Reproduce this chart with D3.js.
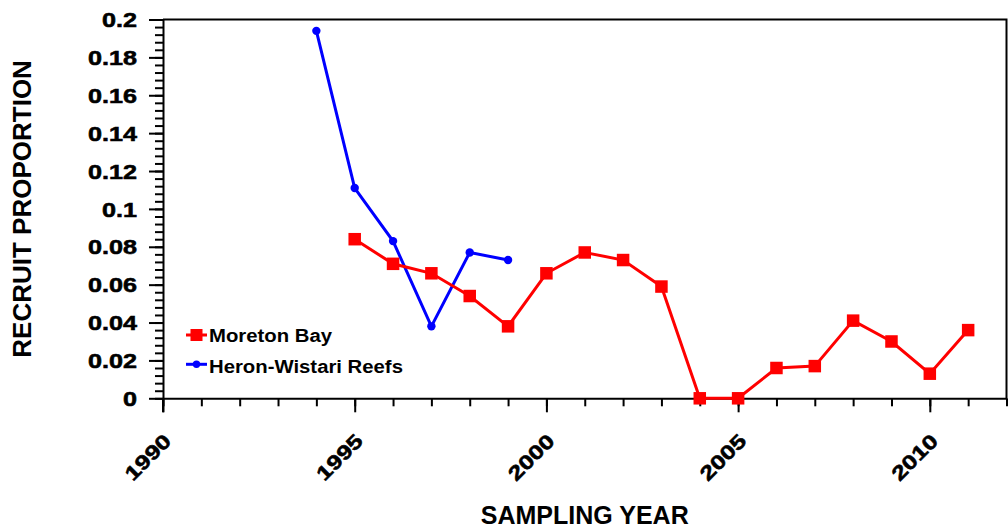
<!DOCTYPE html>
<html>
<head>
<meta charset="utf-8">
<script src="https://cdn.jsdelivr.net/npm/d3@7"></script>
<style>
  body { margin: 0; background: #fff; }
  svg { display: block; }
  text { font-family: "Liberation Sans", Arial, Helvetica, sans-serif; font-weight: bold; fill: #000; }
  .tick text { stroke: #000; stroke-width: 0.55px; }
</style>
</head>
<body>
<svg id="chart" width="1008" height="528"></svg>
<script>
// Recruit proportion by sampling year
const moretonYears  = [1995, 1996, 1997, 1998, 1999, 2000, 2001, 2002, 2003, 2004, 2005, 2006, 2007, 2008, 2009, 2010, 2011];
const moretonValues = [0.084, 0.071, 0.066, 0.054, 0.038, 0.066, 0.077, 0.073, 0.059, 0.0, 0.0, 0.016, 0.017, 0.041, 0.030, 0.013, 0.036];

const heronYears  = [1994, 1995, 1996, 1997, 1998, 1999];
const heronValues = [0.194, 0.111, 0.083, 0.038, 0.077, 0.073];

const xMajorTicks = [1990, 1995, 2000, 2005, 2010];
const xMinorTicks = d3.range(1990, 2013);
const yMajorTicks = [0, 0.02, 0.04, 0.06, 0.08, 0.1, 0.12, 0.14, 0.16, 0.18, 0.2];
const yTickLabels = ["0", "0.02", "0.04", "0.06", "0.08", "0.1", "0.12", "0.14", "0.16", "0.18", "0.2"];
const yMinorTicks = d3.range(0, 51).map(i => i * 0.004);

const seriesNames = ["Moreton Bay", "Heron-Wistari Reefs"];
const RED = "#ff0000", BLUE = "#0000ff";

const svg = d3.select("#chart");

const plot = { left: 163, right: 1006.5, top: 19.5, bottom: 398.3 };
const x = d3.scaleLinear().domain([1990, 2012]).range([plot.left, plot.right]);
const y = d3.scaleLinear().domain([0, 0.2]).range([plot.bottom, plot.top]);

const glyphStretch = 1.26;

// Frame: top and right edges
svg.append("path")
  .attr("d", `M${plot.left},${plot.top}H${plot.right}V${plot.bottom}`)
  .attr("fill", "none").attr("stroke", "#000").attr("stroke-width", 2);

// X axis: yearly minor ticks, labelled every five years
const xAxisG = svg.append("g").attr("transform", `translate(0,${plot.bottom})`);
xAxisG.append("g")
  .call(d3.axisBottom(x).tickValues(xMinorTicks).tickSize(8).tickSizeOuter(0).tickFormat(""))
  .call(g => g.select(".domain").attr("stroke-width", 2))
  .call(g => g.selectAll(".tick line").attr("stroke-width", 2));
xAxisG.append("g")
  .call(d3.axisBottom(x).tickValues(xMajorTicks).tickSize(14).tickSizeOuter(0).tickFormat(d3.format("d")))
  .call(g => g.select(".domain").remove())
  .call(g => g.selectAll(".tick line").attr("stroke-width", 2))
  .call(g => g.selectAll(".tick text")
    .attr("x", 0).attr("y", 0).attr("dy", 0)
    .attr("text-anchor", "end")
    .attr("font-size", 20)
    .attr("transform", `translate(9,44) rotate(-45) scale(${glyphStretch},1)`));

// Y axis: minor ticks every 0.004, labelled every 0.02
const yAxisG = svg.append("g").attr("transform", `translate(${plot.left},0)`);
yAxisG.append("g")
  .call(d3.axisLeft(y).tickValues(yMinorTicks).tickSize(8).tickSizeOuter(0).tickFormat(""))
  .call(g => g.select(".domain").attr("stroke-width", 2))
  .call(g => g.selectAll(".tick line").attr("stroke-width", 2));
yAxisG.append("g")
  .call(d3.axisLeft(y).tickValues(yMajorTicks).tickSize(14).tickSizeOuter(0)
    .tickFormat((d, i) => yTickLabels[i]))
  .call(g => g.select(".domain").remove())
  .call(g => g.selectAll(".tick line").attr("stroke-width", 2))
  .call(g => g.selectAll(".tick text")
    .attr("x", -26 / glyphStretch)
    .attr("dy", "0.36em")
    .attr("font-size", 20)
    .attr("transform", `scale(${glyphStretch},1)`));

// y axis line runs down to the 1990 tick
svg.append("line")
  .attr("x1", plot.left).attr("x2", plot.left)
  .attr("y1", plot.bottom).attr("y2", plot.bottom + 14)
  .attr("stroke", "#000").attr("stroke-width", 2);

// Axis titles
svg.append("text")
  .attr("x", (plot.left + plot.right) / 2).attr("y", 524)
  .attr("text-anchor", "middle").attr("font-size", 25)
  .text("SAMPLING YEAR");

svg.append("text")
  .attr("transform", `translate(31,${(plot.top + plot.bottom) / 2}) rotate(-90)`)
  .attr("text-anchor", "middle").attr("font-size", 26)
  .text("RECRUIT PROPORTION");

// Series
const heron = heronYears.map((yr, i) => ({ year: yr, value: heronValues[i] }));
const moreton = moretonYears.map((yr, i) => ({ year: yr, value: moretonValues[i] }));

const line = d3.line().x(d => x(d.year)).y(d => y(d.value));

svg.append("path").datum(heron)
  .attr("d", line).attr("fill", "none").attr("stroke", BLUE).attr("stroke-width", 3);
svg.append("g").selectAll("circle").data(heron).join("circle")
  .attr("cx", d => x(d.year)).attr("cy", d => y(d.value)).attr("r", 4.2).attr("fill", BLUE);

svg.append("path").datum(moreton)
  .attr("d", line).attr("fill", "none").attr("stroke", RED).attr("stroke-width", 3);
const sq = 12.5;
svg.append("g").selectAll("rect").data(moreton).join("rect")
  .attr("x", d => x(d.year) - sq / 2).attr("y", d => y(d.value) - sq / 2)
  .attr("width", sq).attr("height", sq).attr("fill", RED);

// Legend
const legend = svg.append("g");
const legendRows = [
  { name: seriesNames[0], color: RED, shape: "square", cy: 335, base: 341.5 },
  { name: seriesNames[1], color: BLUE, shape: "circle", cy: 364.3, base: 372.5 }
];
legendRows.forEach(r => {
  legend.append("line")
    .attr("x1", 186).attr("x2", 207).attr("y1", r.cy).attr("y2", r.cy)
    .attr("stroke", r.color).attr("stroke-width", 3);
  if (r.shape === "square") {
    legend.append("rect").attr("x", 196.5 - 6).attr("y", r.cy - 6)
      .attr("width", 12).attr("height", 12).attr("fill", r.color);
  } else {
    legend.append("circle").attr("cx", 196.5).attr("cy", r.cy).attr("r", 3.7).attr("fill", r.color);
  }
  legend.append("text")
    .attr("transform", `translate(209,${r.base}) scale(1.07,1)`)
    .attr("font-size", 19)
    .text(r.name);
});
</script>
</body>
</html>
